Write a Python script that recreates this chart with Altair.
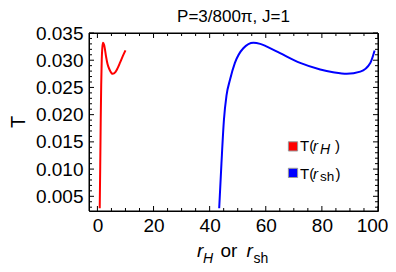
import altair as alt
import pandas as pd

# ---- data ----
red_r = [0.82, 1.0, 1.18, 1.35, 1.54, 1.75, 2.0, 2.4, 3.07, 3.6, 4.3, 5.45, 6.4, 7.25, 8.1, 9.0, 10.0]
red_T = [0.0028, 0.0105, 0.0191, 0.0255, 0.0301, 0.0323, 0.0332, 0.0328, 0.0307, 0.0293, 0.0283,
         0.0275, 0.0278, 0.0286, 0.0296, 0.0307, 0.0318]
blue_r = [43.4, 44.2, 45.1, 46.0, 47.25, 49.0, 52.0, 55.6, 58.0, 60.4, 65.1, 72.25, 79.4, 84.0,
          88.9, 93.7, 97.25, 98.8]
blue_T = [0.0028, 0.0110, 0.0191, 0.0235, 0.0264, 0.0295, 0.0322, 0.0332, 0.0330, 0.0325, 0.0313,
          0.0295, 0.0283, 0.0278, 0.0275, 0.0279, 0.0295, 0.0318]
series_names = ["T(rH)", "T(rsh)"]
series_colors = ["#ff0000", "#0000ff"]

x_major = [0, 20, 40, 60, 80, 100]
x_minor = [5, 10, 15, 25, 30, 35, 45, 50, 55, 65, 70, 75, 85, 90, 95]
y_major = [0.005, 0.010, 0.015, 0.020, 0.025, 0.030, 0.035]
y_minor = [0.003, 0.004, 0.006, 0.007, 0.008, 0.009, 0.011, 0.012, 0.013, 0.014, 0.016, 0.017,
           0.018, 0.019, 0.021, 0.022, 0.023, 0.024, 0.026, 0.027, 0.028, 0.029, 0.031, 0.032,
           0.033, 0.034]
x_domain = [-3, 100]
y_domain = [0.0023, 0.035]
title_text = "P=3/800\u03c0, J=1"
y_title = "T"

FONT = "Liberation Sans"
W, H = 289, 178

df = pd.concat([
    pd.DataFrame({"r": red_r, "T": red_T, "series": series_names[0], "order": range(len(red_r))}),
    pd.DataFrame({"r": blue_r, "T": blue_T, "series": series_names[1], "order": range(len(blue_r))}),
])

xs = alt.Scale(domain=x_domain, nice=False, zero=False)
ys = alt.Scale(domain=y_domain, nice=False, zero=False)

x_axis = alt.Axis(orient="bottom", values=x_major, ticks=False, domain=False, grid=False, title=None,
                  labelFont=FONT, labelFontSize=19, labelColor="#000000", labelPadding=5,
                  format="d", labelOverlap=False, labelFlush=False,
                  labelOffset={"condition": {"test": "datum.value == 100", "value": -6}, "value": 0})
y_axis = alt.Axis(orient="left", values=y_major, ticks=False, domain=False, grid=False, title=None,
                  labelFont=FONT, labelFontSize=19, labelColor="#000000", labelPadding=6,
                  format=".3f", labelOverlap=False, labelFlush=False)

lines = alt.Chart(df).mark_line(strokeWidth=2, interpolate="monotone", clip=True).encode(
    x=alt.X("r:Q", scale=xs, axis=x_axis),
    y=alt.Y("T:Q", scale=ys, axis=y_axis),
    color=alt.Color("series:N", scale=alt.Scale(domain=series_names, range=series_colors), legend=None),
    detail="series:N",
    order="order:Q",
)

# frame
frame = alt.Chart(pd.DataFrame({"k": [0]})).mark_rect(
    fillOpacity=0, stroke="#000000", strokeWidth=1
).encode(x=alt.value(0), x2=alt.value(W), y=alt.value(0), y2=alt.value(H))


# inward tick marks driven by the scales (the tick values go through the x / y scales)
def xticks(values, y0, y1):
    return alt.Chart(pd.DataFrame({"r": values})).mark_rule(color="#000000", strokeWidth=1).encode(
        x=alt.X("r:Q", scale=xs, axis=x_axis), y=alt.value(y0), y2=alt.value(y1))


def yticks(values, x0, x1):
    return alt.Chart(pd.DataFrame({"T": values})).mark_rule(color="#000000", strokeWidth=1).encode(
        y=alt.Y("T:Q", scale=ys, axis=y_axis), x=alt.value(x0), x2=alt.value(x1))


ticks = [
    xticks(x_major, H, H - 5), xticks(x_major, 0, 5),
    xticks(x_minor, H, H - 3), xticks(x_minor, 0, 3),
    yticks(y_major, 0, 5), yticks(y_major, W, W - 5),
    yticks(y_minor, 0, 3), yticks(y_minor, W, W - 3),
]


def txt(s, x, y, size=19, style="normal", angle=0, align="left", baseline="alphabetic"):
    return alt.Chart(pd.DataFrame({"t": [s]})).mark_text(
        font=FONT, fontSize=size, fontStyle=style, angle=angle, align=align, baseline=baseline,
        color="#000000",
    ).encode(text="t:N", x=alt.value(x), y=alt.value(y))


# chart title
tt = [txt(title_text, W / 2, -24, 17, align="center", baseline="top")]

# x-axis title: r_H or r_sh
xt = [
    txt("r", 108, 224, 19, "italic"),
    txt("H", 114, 229.5, 14, "italic"),
    txt("or", 131.5, 224, 19),
    txt("r", 157.5, 224, 19, "italic"),
    txt("sh", 164.5, 229.5, 14),
]
# y-axis title
yt = [txt(y_title, -64, 89, 20, angle=270, align="center", baseline="alphabetic")]

# legend
sq = lambda c, y: alt.Chart(pd.DataFrame({"k": [c]})).mark_square(
    size=85, fill=c, stroke="#999999", strokeWidth=1, opacity=1).encode(x=alt.value(204), y=alt.value(y))
leg = [
    sq(series_colors[0], 113.4),
    txt("T(", 211, 118.4, 15), txt("r", 224, 118.4, 15, "italic"), txt("H", 231, 121, 14, "italic"),
    txt(")", 246, 118.4, 15),
    sq(series_colors[1], 139.9),
    txt("T(", 211, 145.5, 15), txt("r", 224, 145.5, 15, "italic"), txt("sh", 231, 148, 13.5),
    txt(")", 246.5, 145.5, 15),
]

chart = alt.layer(lines, *ticks, frame, *tt, *xt, *yt, *leg).properties(
    width=W, height=H,
    autosize=alt.AutoSizeParams(type="none"),
    padding={"left": 81, "top": 25, "right": 10, "bottom": 53},
    background="#ffffff",
).configure_view(stroke="#000000", strokeWidth=1).configure_axis(labelOverlap=False)

chart.save("out.html", embed_options={"renderer": "svg", "actions": False})
